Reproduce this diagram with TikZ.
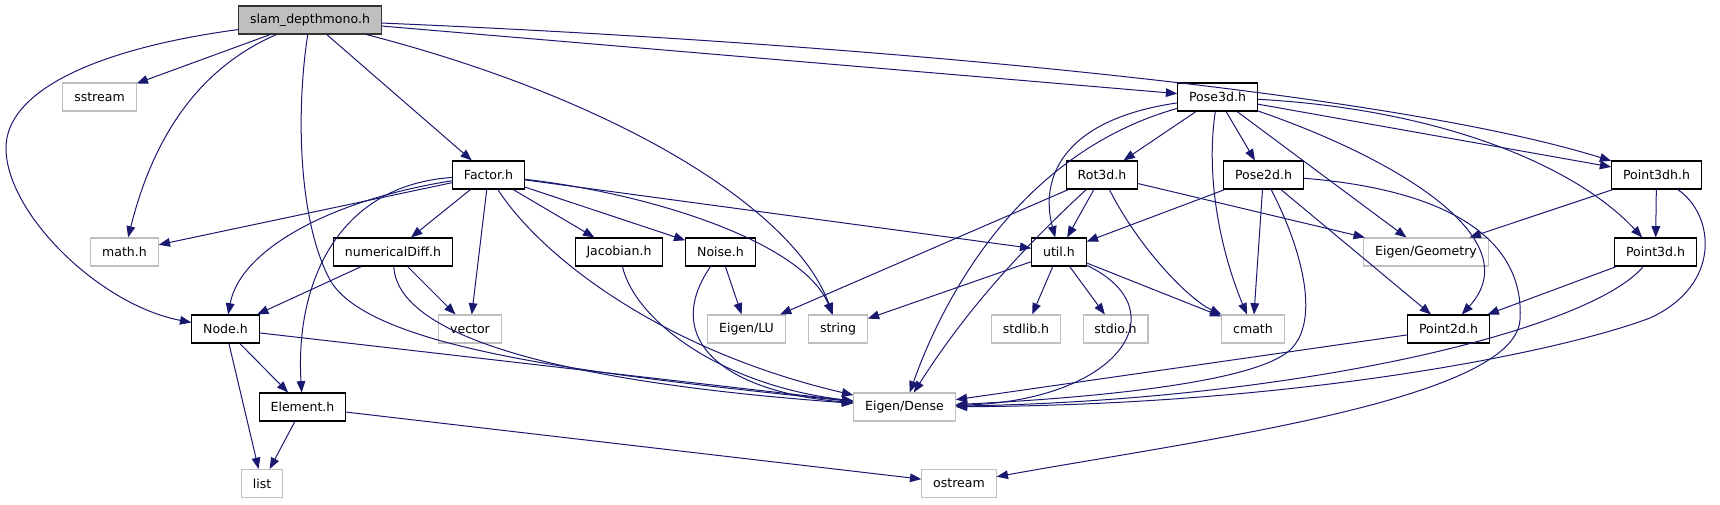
\documentclass[tikz,border=0pt]{standalone}
\usepackage{fontspec}
\setmainfont{DejaVu Sans}
\usepackage{xcolor}
\usepackage{tikz}
\usetikzlibrary{arrows.meta}
\definecolor{incblue}{HTML}{191970}
\definecolor{sysgray}{HTML}{BFBFBF}
\tikzstyle{hdr} = [rectangle, draw=black, fill=white, minimum height=21pt, inner xsep=8.5pt, inner ysep=0pt, line width=0.8pt, font=\fontsize{9.4}{11}\selectfont]
\tikzstyle{syshdr} = [hdr, draw=sysgray]
\tikzstyle{mainhdr} = [hdr, fill=sysgray, draw=black!80]
\tikzstyle{incl} = [draw=incblue, line width=0.75pt, -{Triangle[length=8.5pt,width=6.5pt]}]

\begin{document}
\begin{tikzpicture}[x=0.75pt, y=-0.75pt]
	\useasboundingbox (0,0) rectangle (1720,504);
	\node (slam) [mainhdr] at (310,20) {slam\_depthmono.h};
	\node (sstream) [syshdr] at (99.5,97) {sstream};
	\node (pose3d) [hdr] at (1217.5,97) {Pose3d.h};
	\node (factor) [hdr] at (488.5,175) {Factor.h};
	\node (rot3d) [hdr] at (1102,175) {Rot3d.h};
	\node (pose2d) [hdr] at (1263.5,175) {Pose2d.h};
	\node (point3dh) [hdr] at (1656.5,175) {Point3dh.h};
	\node (mathh) [syshdr] at (124.5,252) {math.h};
	\node (numdiff) [hdr] at (393,252) {numericalDiff.h};
	\node (jacobian) [hdr] at (619,252) {Jacobian.h};
	\node (noise) [hdr] at (720.5,252) {Noise.h};
	\node (util) [hdr] at (1059,252) {util.h};
	\node (geometry) [syshdr] at (1426,252) {Eigen/Geometry};
	\node (point3d) [hdr] at (1655.5,252) {Point3d.h};
	\node (nodeh) [hdr] at (225.5,329) {Node.h};
	\node (vector) [syshdr] at (470,329) {vector};
	\node (eigenlu) [syshdr] at (746.5,329) {Eigen/LU};
	\node (string) [syshdr] at (838,329) {string};
	\node (stdlib) [syshdr] at (1026,329) {stdlib.h};
	\node (stdio) [syshdr] at (1115.5,329) {stdio.h};
	\node (cmath) [syshdr] at (1253,329) {cmath};
	\node (point2d) [hdr] at (1448.5,329) {Point2d.h};
	\node (element) [hdr] at (302.5,407) {Element.h};
	\node (dense) [syshdr] at (904.5,407) {Eigen/Dense};
	\node (list) [syshdr] at (262,483.5) {list};
	\node (ostream) [syshdr] at (959,483.5) {ostream};

	\draw [incl] (slam) .. controls (100,48) and (4,90) .. (6,150) .. controls (8,215) and (100,305) .. (nodeh);
	\draw [incl] (slam) -- (sstream);
	\draw [incl] (slam) .. controls (190,72) and (150,150) .. (mathh);
	\draw [incl] (slam) .. controls (296,110) and (298,220) .. (330,280) .. controls (370,350) and (600,375) .. (dense);
	\draw [incl] (slam) -- (factor);
	\draw [incl] (slam) .. controls (620,100) and (795,210) .. (string);
	\draw [incl] (slam) -- (pose3d);
	\draw [incl] (slam) .. controls (900,45) and (1400,95) .. (point3dh);

	\draw [incl] (factor) -- (mathh);
	\draw [incl] (factor) .. controls (330,200) and (240,250) .. (nodeh);
	\draw [incl] (factor) .. controls (340,185) and (295,280) .. (element);
	\draw [incl] (factor) -- (numdiff);
	\draw [incl] (factor) -- (vector);
	\draw [incl] (factor) .. controls (540,255) and (660,350) .. (dense);
	\draw [incl] (factor) -- (jacobian);
	\draw [incl] (factor) -- (noise);
	\draw [incl] (factor) .. controls (660,195) and (805,245) .. (string);
	\draw [incl] (factor) -- (util);

	\draw [incl] (numdiff) -- (nodeh);
	\draw [incl] (numdiff) -- (vector);
	\draw [incl] (numdiff) .. controls (398,345) and (600,385) .. (dense);
	\draw [incl] (jacobian) .. controls (635,320) and (720,385) .. (dense);
	\draw [incl] (noise) -- (eigenlu);
	\draw [incl] (noise) .. controls (660,340) and (725,392) .. (dense);

	\draw [incl] (nodeh) -- (element);
	\draw [incl] (nodeh) -- (list);
	\draw [incl] (nodeh) -- (dense);
	\draw [incl] (element) -- (list);
	\draw [incl] (element) -- (ostream);

	\draw [incl] (pose3d) -- (rot3d);
	\draw [incl] (pose3d) .. controls (1060,120) and (1040,180) .. (util);
	\draw [incl] (pose3d) .. controls (1030,150) and (950,280) .. (dense);
	\draw [incl] (pose3d) -- (pose2d);
	\draw [incl] (pose3d) .. controls (1205,180) and (1222,255) .. (cmath);
	\draw [incl] (pose3d) -- (geometry);
	\draw [incl] (pose3d) .. controls (1400,160) and (1530,240) .. (point2d);
	\draw [incl] (pose3d) -- (point3dh);
	\draw [incl] (pose3d) .. controls (1450,110) and (1580,170) .. (point3d);

	\draw [incl] (rot3d) -- (eigenlu);
	\draw [incl] (rot3d) .. controls (1010,260) and (960,320) .. (dense);
	\draw [incl] (rot3d) -- (util);
	\draw [incl] (rot3d) .. controls (1140,250) and (1190,300) .. (cmath);
	\draw [incl] (rot3d) -- (geometry);

	\draw [incl] (pose2d) -- (util);
	\draw [incl] (pose2d) -- (cmath);
	\draw [incl] (pose2d) .. controls (1300,245) and (1322,320) .. (1290,350) .. controls (1250,387) and (1050,400) .. (dense);
	\draw [incl] (pose2d) -- (point2d);
	\draw [incl] (pose2d) .. controls (1450,190) and (1525,240) .. (1520,320) .. controls (1514,400) and (1200,440) .. (ostream);

	\draw [incl] (util) -- (string);
	\draw [incl] (util) -- (stdlib);
	\draw [incl] (util) -- (stdio);
	\draw [incl] (util) -- (cmath);
	\draw [incl] (util) .. controls (1180,310) and (1120,400) .. (dense);

	\draw [incl] (point3dh) -- (geometry);
	\draw [incl] (point3dh) -- (point3d);
	\draw [incl] (point3dh) .. controls (1715,215) and (1722,285) .. (1650,318) .. controls (1560,352) and (1300,405) .. (dense);
	\draw [incl] (point3d) -- (point2d);
	\draw [incl] (point3d) .. controls (1590,330) and (1300,400) .. (dense);
	\draw [incl] (point2d) -- (dense);
\end{tikzpicture}
\end{document}
